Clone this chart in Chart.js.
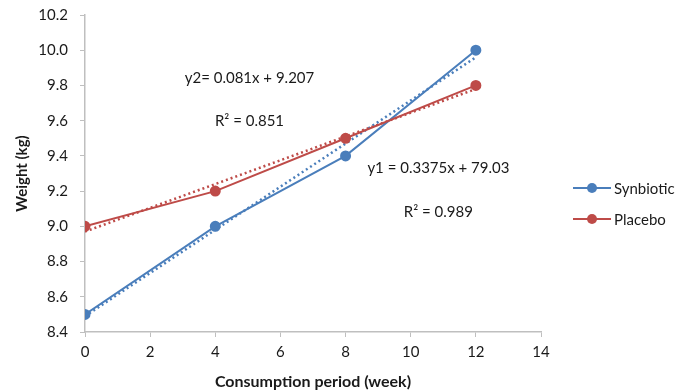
<!DOCTYPE html>
<html>
<head>
<meta charset="utf-8">
<script src="https://cdn.jsdelivr.net/npm/chart.js@4.4.1/dist/chart.umd.min.js"></script>
<style>
  html, body { margin: 0; padding: 0; background: #fff; }
  #wrap { position: relative; width: 679px; height: 391px; }
  #legend { position: absolute; left: 573px; top: 172px; font-family: Lato, 'Open Sans', sans-serif; font-size: 15px; color: #1a1a1a; }
  .item { display: flex; align-items: center; height: 31px; }
  .sw { position: relative; width: 38px; height: 10px; margin-right: 3px; }
  .sw .ln { position: absolute; left: 0; right: 0; top: 4px; height: 2px; }
  .sw .dt { position: absolute; left: 14px; top: 0; width: 10px; height: 10px; border-radius: 50%; }
</style>
</head>
<body>
<div id="wrap">
  <canvas id="myChart" width="679" height="391"></canvas>
  <div id="legend"></div>
</div>
<script>
// Datos
const semanas = [0, 4, 8, 12];
const synbiotic = [8.5, 9.0, 9.4, 10.0];
const placebo = [9.0, 9.2, 9.5, 9.8];
// lineas de tendencia (extremos leidos)
const tendX = [0, 12];
const tendSynbiotic = [8.49, 9.96];
const tendPlacebo = [8.97, 9.78];
const xTicks = [0, 2, 4, 6, 8, 10, 12, 14];
const yTicks = [8.4, 8.6, 8.8, 9.0, 9.2, 9.4, 9.6, 9.8, 10.0, 10.2];

const azul = '#4a7ebb';
const rojo = '#be4b48';
const fuente = "Lato, 'Open Sans', sans-serif";

const puntos = (xs, ys) => xs.map((x, i) => ({ x: x, y: ys[i] }));

// Ecuaciones en el grafico [texto, x, y] en unidades de datos
const notas = [
    ['y2= 0.081x + 9.207', 5.05, 9.84],
    ['R\u00b2 = 0.851', 5.05, 9.6],
    ['y1 = 0.3375x + 79.03', 10.85, 9.33],
    ['R\u00b2 = 0.989', 10.85, 9.08]
];

const notasPlugin = {
    id: 'notas',
    afterDatasetsDraw(chart) {
        const ctx = chart.ctx;
        const sx = chart.scales.x, sy = chart.scales.y;
        ctx.save();
        ctx.font = '15px ' + fuente;
        ctx.fillStyle = '#1a1a1a';
        ctx.textAlign = 'center';
        ctx.textBaseline = 'middle';
        notas.forEach(n => ctx.fillText(n[0], sx.getPixelForValue(n[1]), sy.getPixelForValue(n[2])));
        ctx.restore();
    }
};

const ctx = document.getElementById('myChart').getContext('2d');
new Chart(ctx, {
    type: 'scatter',
    data: {
        datasets: [
            { label: 'Synbiotic', data: puntos(semanas, synbiotic), showLine: true, borderColor: azul, backgroundColor: azul, borderWidth: 2, pointRadius: 4.5, pointHoverRadius: 4.5, order: 1 },
            { label: 'Placebo', data: puntos(semanas, placebo), showLine: true, borderColor: rojo, backgroundColor: rojo, borderWidth: 2, pointRadius: 4.5, pointHoverRadius: 4.5, order: 0 },
            { label: 'tend1', data: puntos(tendX, tendSynbiotic), showLine: true, borderColor: azul, borderWidth: 2.5, borderDash: [2, 3], pointRadius: 0, order: 2 },
            { label: 'tend2', data: puntos(tendX, tendPlacebo), showLine: true, borderColor: rojo, borderWidth: 2.5, borderDash: [2, 3], pointRadius: 0, order: 2 }
        ]
    },
    options: {
        responsive: false,
        animation: false,
        layout: { padding: { left: 0, right: 138, top: 0, bottom: 0 } },
        plugins: {
            legend: { display: false },
            tooltip: { enabled: false }
        },
        scales: {
            x: {
                type: 'linear',
                min: 0, max: 14,
                afterBuildTicks: s => { s.ticks = xTicks.map(v => ({ value: v })); },
                afterFit: s => { s.height = 59; },
                grid: { drawOnChartArea: false, drawTicks: true, tickLength: 5, color: '#bfbfbf' },
                border: { color: '#bfbfbf', width: 1.5 },
                ticks: { padding: 6, color: '#1a1a1a', font: { family: fuente, size: 15 } },
                title: { display: true, text: 'Consumption period (week)', color: '#1a1a1a', font: { family: fuente, size: 16, weight: 'bold' }, padding: { top: 2, bottom: 0 } }
            },
            y: {
                min: 8.4, max: 10.2,
                afterBuildTicks: s => { s.ticks = yTicks.map(v => ({ value: v })); },
                afterFit: s => { s.width = 85; s.paddingTop = 15; },
                grid: { drawOnChartArea: false, drawTicks: true, tickLength: 5, color: '#bfbfbf' },
                border: { color: '#bfbfbf', width: 1.5 },
                ticks: { padding: 12, color: '#1a1a1a', font: { family: fuente, size: 15 }, callback: v => v.toFixed(1) },
                title: { display: true, text: 'Weight (kg)', color: '#1a1a1a', font: { family: fuente, size: 15, weight: 'bold' }, padding: { top: 13, bottom: 0 } }
            }
        }
    },
    plugins: [notasPlugin]
});

// Leyenda en HTML
const leyenda = [['Synbiotic', azul], ['Placebo', rojo]];
document.getElementById('legend').innerHTML = leyenda.map(l =>
    '<div class="item"><span class="sw"><span class="ln" style="background:' + l[1] + '"></span><span class="dt" style="background:' + l[1] + '"></span></span>' + l[0] + '</div>'
).join('');
</script>
</body>
</html>
